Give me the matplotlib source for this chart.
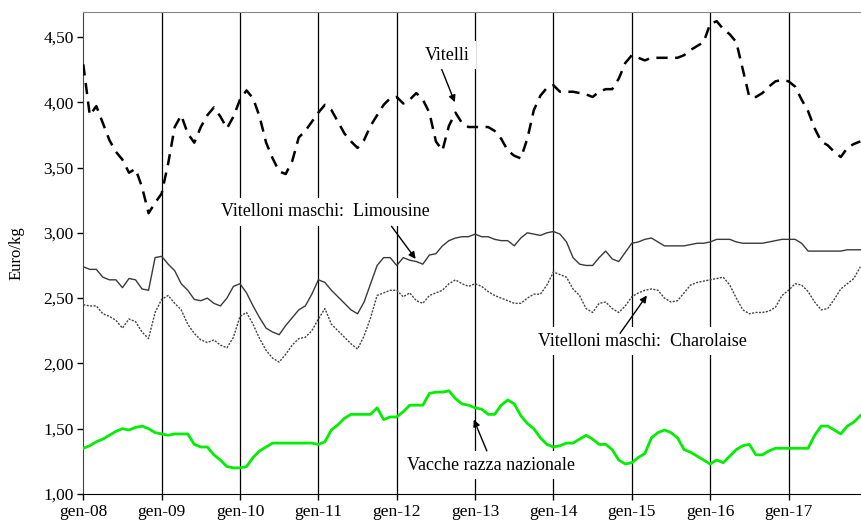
import matplotlib
matplotlib.use("Agg")
import matplotlib.pyplot as plt
import numpy as np

plt.rcParams['font.family'] = ['Liberation Serif', 'DejaVu Serif']

# monthly prices, gen-08 .. dic-17 (Euro/kg)
vitelli = [4.29, 3.90, 3.97, 3.84, 3.71, 3.62, 3.56, 3.46, 3.49, 3.35, 3.15, 3.23,
           3.30, 3.53, 3.81, 3.90, 3.76, 3.69, 3.81, 3.90, 3.96, 3.89, 3.80, 3.89,
           4.02, 4.09, 4.03, 3.89, 3.69, 3.57, 3.47, 3.45, 3.55, 3.73, 3.78, 3.85,
           3.92, 3.98, 3.94, 3.85, 3.76, 3.70, 3.65, 3.71, 3.82, 3.90, 3.98, 4.03,
           4.04, 3.99, 4.02, 4.07, 4.02, 3.92, 3.70, 3.63, 3.82, 3.92, 3.84, 3.81,
           3.81, 3.81, 3.81, 3.78, 3.72, 3.63, 3.59, 3.57, 3.72, 3.94, 4.05, 4.11,
           4.13, 4.08, 4.08, 4.08, 4.07, 4.06, 4.04, 4.08, 4.10, 4.10, 4.18, 4.30,
           4.36, 4.34, 4.32, 4.34, 4.34, 4.34, 4.34, 4.34, 4.36, 4.40, 4.43, 4.46,
           4.60, 4.62, 4.56, 4.52, 4.46, 4.25, 4.04, 4.04, 4.07, 4.12, 4.16, 4.17,
           4.16, 4.12, 4.02, 3.93, 3.80, 3.70, 3.67, 3.62, 3.58, 3.65, 3.68, 3.70]

limousine = [2.74, 2.72, 2.72, 2.66, 2.64, 2.64, 2.58, 2.65, 2.64, 2.57, 2.56, 2.81,
             2.82, 2.76, 2.71, 2.61, 2.56, 2.49, 2.48, 2.50, 2.46, 2.44, 2.50, 2.59,
             2.61, 2.54, 2.44, 2.35, 2.27, 2.24, 2.22, 2.29, 2.35, 2.41, 2.44, 2.53,
             2.64, 2.62, 2.56, 2.51, 2.46, 2.41, 2.38, 2.47, 2.61, 2.75, 2.81, 2.81,
             2.75, 2.81, 2.79, 2.78, 2.76, 2.83, 2.84, 2.90, 2.94, 2.96, 2.97, 2.97,
             2.99, 2.97, 2.97, 2.95, 2.94, 2.94, 2.90, 2.96, 3.00, 2.99, 2.98, 3.00,
             3.01, 2.99, 2.93, 2.81, 2.76, 2.75, 2.75, 2.81, 2.86, 2.80, 2.78, 2.85,
             2.92, 2.93, 2.95, 2.96, 2.93, 2.90, 2.90, 2.90, 2.90, 2.91, 2.92, 2.92,
             2.93, 2.95, 2.95, 2.95, 2.93, 2.92, 2.92, 2.92, 2.92, 2.93, 2.94, 2.95,
             2.95, 2.95, 2.92, 2.86, 2.86, 2.86, 2.86, 2.86, 2.86, 2.87, 2.87, 2.87]

charolaise = [2.45, 2.44, 2.44, 2.38, 2.36, 2.33, 2.27, 2.34, 2.32, 2.24, 2.19, 2.39,
              2.49, 2.52, 2.46, 2.41, 2.30, 2.23, 2.18, 2.16, 2.18, 2.14, 2.12, 2.20,
              2.36, 2.39, 2.30, 2.19, 2.10, 2.04, 2.01, 2.07, 2.14, 2.19, 2.20, 2.25,
              2.34, 2.42, 2.30, 2.25, 2.20, 2.15, 2.11, 2.21, 2.35, 2.52, 2.54, 2.56,
              2.56, 2.51, 2.54, 2.48, 2.46, 2.52, 2.54, 2.56, 2.61, 2.64, 2.61, 2.59,
              2.61, 2.59, 2.55, 2.52, 2.50, 2.48, 2.46, 2.46, 2.50, 2.53, 2.53, 2.60,
              2.70, 2.68, 2.66, 2.57, 2.52, 2.42, 2.39, 2.46, 2.47, 2.42, 2.39, 2.44,
              2.51, 2.54, 2.56, 2.57, 2.56, 2.50, 2.47, 2.48, 2.54, 2.60, 2.62, 2.63,
              2.64, 2.65, 2.66, 2.60, 2.50, 2.41, 2.38, 2.39, 2.39, 2.40, 2.43, 2.52,
              2.56, 2.61, 2.60, 2.55, 2.47, 2.41, 2.42, 2.49, 2.57, 2.61, 2.65, 2.74]

vacche = [1.35, 1.37, 1.40, 1.42, 1.45, 1.48, 1.50, 1.49, 1.51, 1.52, 1.50, 1.47,
          1.46, 1.45, 1.46, 1.46, 1.46, 1.38, 1.36, 1.36, 1.30, 1.26, 1.21, 1.20,
          1.20, 1.21, 1.28, 1.33, 1.36, 1.39, 1.39, 1.39, 1.39, 1.39, 1.39, 1.39,
          1.38, 1.40, 1.49, 1.53, 1.58, 1.61, 1.61, 1.61, 1.61, 1.66, 1.57, 1.59,
          1.59, 1.63, 1.68, 1.68, 1.68, 1.77, 1.78, 1.78, 1.79, 1.73, 1.69, 1.68,
          1.66, 1.65, 1.61, 1.61, 1.68, 1.72, 1.69, 1.60, 1.54, 1.50, 1.43, 1.38,
          1.36, 1.37, 1.39, 1.39, 1.42, 1.45, 1.42, 1.38, 1.38, 1.34, 1.26, 1.23,
          1.24, 1.28, 1.31, 1.43, 1.47, 1.49, 1.47, 1.43, 1.34, 1.32, 1.29, 1.26,
          1.23, 1.26, 1.24, 1.29, 1.34, 1.37, 1.38, 1.30, 1.30, 1.33, 1.35, 1.35,
          1.35, 1.35, 1.35, 1.35, 1.45, 1.52, 1.52, 1.49, 1.46, 1.52, 1.55, 1.60]

year_labels = ['gen-08', 'gen-09', 'gen-10', 'gen-11', 'gen-12',
               'gen-13', 'gen-14', 'gen-15', 'gen-16', 'gen-17']
yticks = [1.0, 1.5, 2.0, 2.5, 3.0, 3.5, 4.0, 4.5]

months = np.arange(len(vitelli))
year_pos = np.arange(0, 120, 12)

fig = plt.figure(figsize=(8.62, 5.21), dpi=100)
ax = fig.add_axes([0.0966, 0.0518, 0.9034, 0.925])

# year separators
for p in year_pos[1:]:
    ax.axvline(p, color='black', lw=0.9, zorder=1)

ax.plot(months, vitelli, color='black', lw=1.8, linestyle=(0, (4.5, 3)), zorder=3)
ax.plot(months, limousine, color='#3a3a3a', lw=1.0, zorder=3)
ax.plot(months, charolaise, color='#444444', lw=1.0, linestyle=(0, (1.5, 1)), zorder=3)
ax.plot(months, vacche, color='#00ee00', lw=2.0, zorder=3)

ax.set_xlim(0, 119.25)
ax.set_ylim(1.0, 4.69)
ax.set_xticks(year_pos)
ax.set_xticklabels(year_labels, fontsize=12.5)
ax.set_yticks(yticks)
ax.set_yticklabels([('%.2f' % v).replace('.', ',') for v in yticks], fontsize=12.5)
ax.tick_params(axis='both', direction='out', length=4, width=1, colors='black', pad=3)
ax.set_ylabel('Euro/kg', fontsize=12)
ax.yaxis.set_label_coords(-0.076, 0.5)

ax.spines['top'].set_color('#888888')
ax.spines['left'].set_color('#444444')
ax.spines['bottom'].set_color('black')
ax.spines['right'].set_visible(False)

# white boxes behind labels break the year lines, as in the original
box = dict(facecolor='white', edgecolor='none', pad=4)
arrow = dict(arrowstyle='-|>', color='black', lw=1, mutation_scale=10, shrinkA=0, shrinkB=0)

ax.text(55.8, 4.36, 'Vitelli', fontsize=13, ha='center', va='center', bbox=box, zorder=2)
ax.annotate('', xy=(56.9, 4.00), xytext=(54.9, 4.25), arrowprops=arrow, zorder=6)

ax.text(21.1, 3.16, 'Vitelloni maschi:  Limousine', fontsize=13, ha='left', va='center', bbox=box, zorder=2)
ax.annotate('', xy=(50.9, 2.80), xytext=(47.2, 3.05), arrowprops=arrow, zorder=6)

ax.text(69.6, 2.17, 'Vitelloni maschi:  Charolaise', fontsize=13, ha='left', va='center', bbox=box, zorder=2)
ax.annotate('', xy=(86.3, 2.52), xytext=(82.2, 2.23), arrowprops=arrow, zorder=6)

ax.text(49.5, 1.22, 'Vacche razza nazionale', fontsize=13, ha='left', va='center', bbox=box, zorder=2)
ax.annotate('', xy=(59.8, 1.57), xytext=(61.8, 1.33), arrowprops=arrow, zorder=6)

fig.savefig('out.png', dpi=100)
